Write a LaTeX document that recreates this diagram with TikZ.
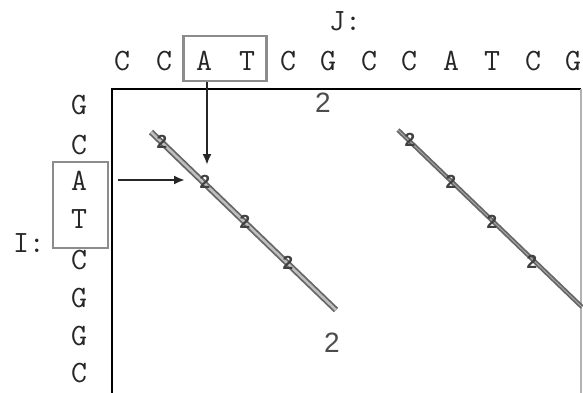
\documentclass[tikz,border=0pt]{standalone}
\usepackage{fontspec}
\setsansfont{Liberation Sans}
\usetikzlibrary{arrows.meta}
\begin{document}
\begin{tikzpicture}[x=1pt,y=-1pt,
  seq/.style={font=\ttfamily\fontsize{31}{31}\selectfont, text=black!85, inner sep=0pt},
  lbl/.style={font=\sffamily\fontsize{28}{28}\selectfont, text=black!70, inner sep=0pt},
  mark2/.style={font=\sffamily\bfseries\fontsize{19}{19}\selectfont, text=black!75, inner sep=0pt},
  hl/.style={draw=black!45, line width=2.5pt},
  diag/.style={draw=black!60, double=black!25, double distance=2.5pt, line width=1.8pt},
  diagb/.style={draw=black!60, line width=4.5pt},
  arr/.style={draw=black!85, line width=2.2pt, -{Latex[length=11pt,width=9pt]}}
]
\useasboundingbox (0,0) rectangle (583,393);
% frame
\draw[black, line width=2.5pt] (112,393) -- (112,89) -- (581,89);
\draw[black!30, line width=1.5pt] (581,89) -- (581,393);
% top sequence J
\node[seq] (j1) at (122,61) {C};
\node[seq] (j2) at (164,61) {C};
\node[seq] (j3) at (204,61) {A};
\node[seq] (j4) at (247,61) {T};
\node[seq] (j5) at (288,61) {C};
\node[seq] (j6) at (328,61) {G};
\node[seq] (j7) at (369,61) {C};
\node[seq] (j8) at (409,61) {C};
\node[seq] (j9) at (451,61) {A};
\node[seq] (j10) at (492,61) {T};
\node[seq] (j11) at (533,61) {C};
\node[seq] (j12) at (573,61) {G};
\node[seq] (J) at (345,21) {J:};
% left sequence I
\node[seq] (i1) at (79,105) {G};
\node[seq] (i2) at (79,145) {C};
\node[seq] (i3) at (79,181) {A};
\node[seq] (i4) at (79,219) {T};
\node[seq] (i5) at (79,260) {C};
\node[seq] (i6) at (79,298) {G};
\node[seq] (i7) at (79,336) {G};
\node[seq] (i8) at (79,373) {C};
\node[seq] (I) at (29,243) {I:};
% highlight boxes
\node[hl, minimum width=83pt, minimum height=45pt, inner sep=0pt] (topbox) at (225,58.5) {};
\node[hl, minimum width=55pt, minimum height=86pt, inner sep=0pt] (leftbox) at (80.5,205) {};
% diagonals
\coordinate (d1s) at (151,132);
\coordinate (d1e) at (336,310);
\coordinate (d2s) at (398,130);
\coordinate (d2e) at (582,307);
\draw[diag] (d1s) -- (d1e);
\draw[diagb] (d2s) -- (d2e);
\draw[black!35, line width=1pt] (d2s) -- (d2e);
% marks along diagonals
\foreach \p/\n in {{(162,142)}/a1,{(205,182)}/a2,{(245,222)}/a3,{(288,263)}/a4,{(410,140)}/b1,{(451,182)}/b2,{(492,222)}/b3,{(532,262)}/b4}
  \node[mark2] (\n) at \p {2};
% arrows
\coordinate (va) at (207,165);
\coordinate (hs) at (118,180);
\coordinate (ha) at (185,180);
\draw[arr] (topbox.south -| va) -- (va);
\draw[arr] (hs) -- (ha);
% labels
\node[lbl] (l1) at (323,103) {2};
\node[lbl] (l2) at (332,343) {2};
\end{tikzpicture}
\end{document}
